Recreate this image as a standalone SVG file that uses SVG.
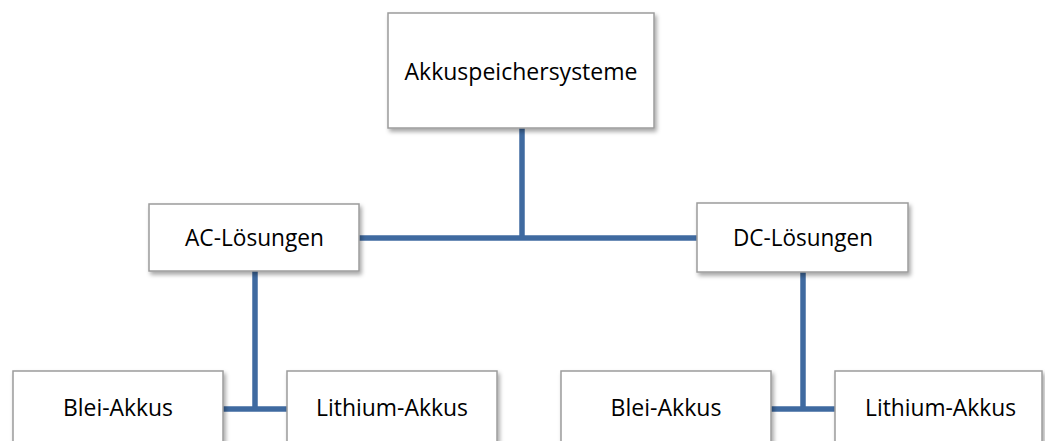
<svg xmlns="http://www.w3.org/2000/svg" width="1045" height="441" viewBox="0 0 1045 441">
<defs>
<filter id="sh" x="-10%" y="-10%" width="125%" height="135%">
<feDropShadow dx="2" dy="3" stdDeviation="2" flood-color="#000" flood-opacity="0.35"/>
</filter>
<style>
.box{fill:#ffffff;stroke:#9c9c9c;stroke-width:1.5;filter:url(#sh)}
.lbl{font-family:"Open Sans","Noto Sans","Liberation Sans",sans-serif;font-size:23px;fill:#000;text-anchor:middle}
.conn{fill:none;stroke:#3f6aa0;stroke-width:5.5}
</style>
</defs>
<rect width="1045" height="441" fill="#ffffff"/>
<g id="connectors">
<path class="conn" d="M522,128 V238"/>
<path class="conn" d="M359,238 H697"/>
<path class="conn" d="M255,271 V409"/>
<path class="conn" d="M223,409 H287"/>
<path class="conn" d="M803,272 V409"/>
<path class="conn" d="M771,409 H835"/>
</g>
<g id="akkuspeichersysteme">
<rect class="box" x="388" y="13" width="266" height="115"/>
<text class="lbl" x="521" y="80" textLength="233" lengthAdjust="spacingAndGlyphs">Akkuspeichersysteme</text>
</g>
<g id="ac-loesungen">
<rect class="box" x="149" y="204" width="210" height="67"/>
<text class="lbl" x="254.5" y="246" textLength="139" lengthAdjust="spacingAndGlyphs">AC-Lösungen</text>
</g>
<g id="dc-loesungen">
<rect class="box" x="697" y="203" width="211" height="69"/>
<text class="lbl" x="803" y="246" textLength="140" lengthAdjust="spacingAndGlyphs">DC-Lösungen</text>
</g>
<g id="ac-blei">
<rect class="box" x="13" y="371" width="210" height="80"/>
<text class="lbl" x="118" y="416" textLength="110" lengthAdjust="spacingAndGlyphs">Blei-Akkus</text>
</g>
<g id="ac-lithium">
<rect class="box" x="287" y="371" width="210" height="80"/>
<text class="lbl" x="392" y="416" textLength="152" lengthAdjust="spacingAndGlyphs">Lithium-Akkus</text>
</g>
<g id="dc-blei">
<rect class="box" x="561" y="371" width="210" height="80"/>
<text class="lbl" x="666" y="416" textLength="111" lengthAdjust="spacingAndGlyphs">Blei-Akkus</text>
</g>
<g id="dc-lithium">
<rect class="box" x="835" y="371" width="207" height="80"/>
<text class="lbl" x="940.5" y="416" textLength="151" lengthAdjust="spacingAndGlyphs">Lithium-Akkus</text>
</g>
</svg>
